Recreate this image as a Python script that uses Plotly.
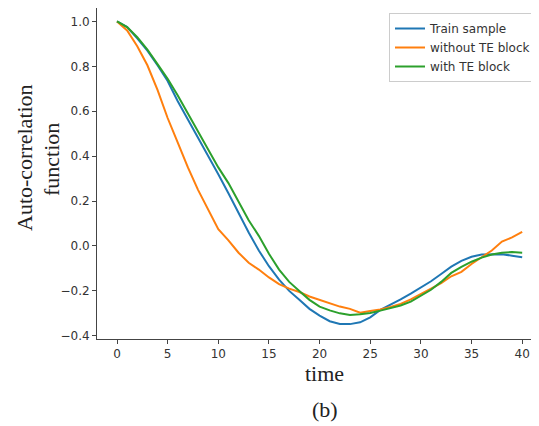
import plotly.graph_objects as go

time = list(range(41))

train_sample = [1.000, 0.975, 0.925, 0.870, 0.805, 0.735, 0.645, 0.565, 0.485, 0.405,
                0.320, 0.235, 0.145, 0.060, -0.020, -0.090, -0.150, -0.200, -0.240, -0.280,
                -0.310, -0.335, -0.347, -0.348, -0.340, -0.318, -0.285, -0.262, -0.238, -0.212,
                -0.185, -0.157, -0.125, -0.092, -0.066, -0.048, -0.038, -0.036, -0.037, -0.043,
                -0.050]

without_te = [1.000, 0.960, 0.890, 0.805, 0.695, 0.570, 0.460, 0.350, 0.250, 0.160,
              0.075, 0.025, -0.030, -0.075, -0.105, -0.140, -0.170, -0.190, -0.205, -0.225,
              -0.240, -0.255, -0.270, -0.280, -0.297, -0.290, -0.283, -0.272, -0.258, -0.238,
              -0.215, -0.190, -0.165, -0.135, -0.115, -0.080, -0.050, -0.020, 0.020, 0.038,
              0.063]

with_te = [1.000, 0.975, 0.930, 0.875, 0.810, 0.745, 0.670, 0.590, 0.510, 0.430,
           0.350, 0.280, 0.200, 0.115, 0.045, -0.035, -0.105, -0.160, -0.200, -0.240,
           -0.270, -0.287, -0.300, -0.307, -0.304, -0.298, -0.288, -0.278, -0.265, -0.248,
           -0.223, -0.195, -0.160, -0.120, -0.093, -0.070, -0.052, -0.038, -0.030, -0.027,
           -0.030]

series_names = ["Train sample", "without TE block", "with TE block"]
series_colors = ["#1f77b4", "#ff7f0e", "#2ca02c"]

x_ticks = [0, 5, 10, 15, 20, 25, 30, 35, 40]
y_ticks = [-0.4, -0.2, 0.0, 0.2, 0.4, 0.6, 0.8, 1.0]
y_tick_labels = ["\u22120.4", "\u22120.2", "0.0", "0.2", "0.4", "0.6", "0.8", "1.0"]

fig = go.Figure()
for name, ys, col in zip(series_names, [train_sample, without_te, with_te], series_colors):
    fig.add_trace(go.Scatter(x=time, y=ys, mode="lines", name=name,
                             line=dict(color=col, width=2)))

tick_font = dict(family="DejaVu Sans", size=12, color="#333333")
serif = "Liberation Serif"

# The page body has an 8px default margin; the figure is sized so that it
# fills the 539x426 window starting at (8, 8).
OFF = 8
W, H = 539 - OFF, 426 - OFF
PL, PR, PT, PB = 97 - OFF, 539 - OFF, 8 - OFF, 339 - OFF   # plot area in figure px
PW, PH = PR - PL, PB - PT


def px(xp):
    return (xp - OFF - PL) / PW


def py(yp):
    return (PB - (yp - OFF)) / PH


fig.update_layout(
    width=W, height=H,
    margin=dict(l=PL, r=W - PR, t=PT, b=H - PB, autoexpand=False),
    plot_bgcolor="white", paper_bgcolor="white",
    showlegend=True,
    legend=dict(x=px(536), y=py(13), xanchor="right", yanchor="top",
                bordercolor="#cccccc", borderwidth=1, bgcolor="rgba(255,255,255,0.8)",
                font=dict(family="DejaVu Sans", size=12, color="#333333"),
                tracegroupgap=0, itemwidth=30),
    xaxis=dict(range=[-1.974, 41.66], tickvals=x_ticks, showgrid=False, zeroline=False,
               automargin=False,
               showline=True, linecolor="#444444", linewidth=1, mirror=True,
               ticks="outside", ticklen=4, tickcolor="#444444", tickfont=tick_font),
    yaxis=dict(range=[-0.4143, 1.060], tickvals=y_ticks, ticktext=y_tick_labels,
               showgrid=False, zeroline=False, automargin=False,
               showline=True, linecolor="#444444", linewidth=1, mirror=False,
               ticks="outside", ticklen=4, tickcolor="#444444", tickfont=tick_font),
    annotations=[
        dict(text="Auto-correlation", xref="paper", yref="paper",
             x=px(24), y=py(158), textangle=-90, showarrow=False,
             xanchor="center", yanchor="middle",
             font=dict(family=serif, size=22, color="#222222")),
        dict(text="function", xref="paper", yref="paper",
             x=px(52), y=py(160), textangle=-90, showarrow=False,
             xanchor="center", yanchor="middle",
             font=dict(family=serif, size=22, color="#222222")),
        dict(text="time", xref="paper", yref="paper",
             x=px(324), y=py(374), showarrow=False,
             xanchor="center", yanchor="middle",
             font=dict(family=serif, size=22, color="#222222")),
        dict(text="(b)", xref="paper", yref="paper",
             x=px(325), y=py(410), showarrow=False,
             xanchor="center", yanchor="middle",
             font=dict(family=serif, size=22, color="#222222")),
    ],
)

fig.write_html("out.html")
